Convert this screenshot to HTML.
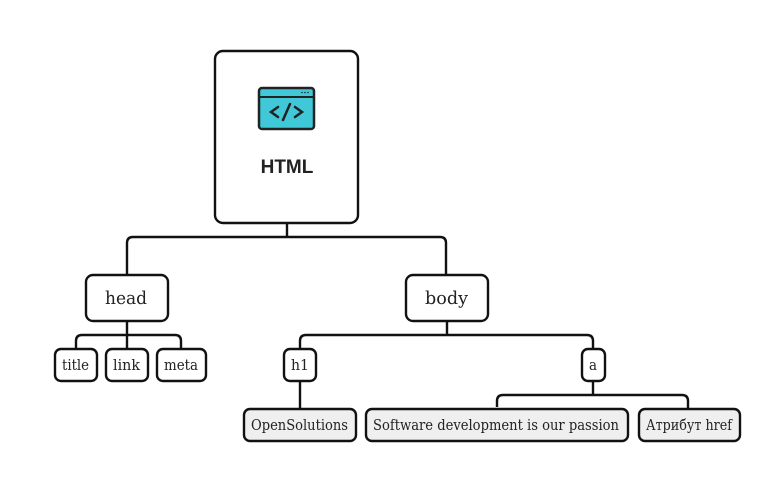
<!DOCTYPE html>
<html><head><meta charset="utf-8"><style>
html,body{margin:0;padding:0;background:#fff;width:759px;height:482px;overflow:hidden}
svg text{font-family:"DejaVu Serif","Liberation Serif",serif;fill:#222}
</style></head><body>
<svg width="759" height="482" viewBox="0 0 759 482" xmlns="http://www.w3.org/2000/svg">
<g fill="none" stroke="#111" stroke-width="2.4">
<path d="M287 223V237M127 275V243Q127 237 133 237H440Q446 237 446 243V275"/>
<path d="M127 321V335M76 349V341Q76 335 82 335H175Q181 335 181 341V349M127 335V349"/>
<path d="M447 321V335M300 349V341Q300 335 306 335H587Q593 335 593 341V349"/>
<path d="M300 381V409"/>
<path d="M593 381V395M497 407V401Q497 395 503 395H682Q688 395 688 401V409"/>
</g>
<g stroke="#111" stroke-width="2.4">
<rect x="215" y="51" width="143" height="172" rx="8" fill="#fff"/>
<rect x="86" y="275" width="82" height="46" rx="7" fill="#fff"/>
<rect x="406" y="275" width="82" height="46" rx="7" fill="#fff"/>
<rect x="55" y="349" width="42" height="32" rx="6" fill="#fff"/>
<rect x="106" y="349" width="42" height="32" rx="6" fill="#fff"/>
<rect x="157" y="349" width="49" height="32" rx="6" fill="#fff"/>
<rect x="284" y="349" width="32" height="32" rx="6" fill="#fff"/>
<rect x="582" y="349" width="23" height="32" rx="6" fill="#fff"/>
<rect x="244" y="409" width="112" height="32" rx="6" fill="#efefef"/>
<rect x="366" y="409" width="262" height="32" rx="6" fill="#efefef"/>
<rect x="639" y="409" width="101" height="32" rx="6" fill="#efefef"/>
</g>
<rect x="259" y="88" width="55" height="41" rx="3" fill="#40c8d8" stroke="#222" stroke-width="2.5"/>
<line x1="259" y1="97" x2="314" y2="97" stroke="#222" stroke-width="2"/>
<circle cx="302" cy="92.5" r="0.8" fill="#222"/><circle cx="305" cy="92.5" r="0.8" fill="#222"/><circle cx="308" cy="92.5" r="0.8" fill="#222"/>
<g fill="none" stroke="#222" stroke-width="2.5" stroke-linecap="round">
<path d="M278 107L271 112L278 117M295 107L302 112L295 117M290 104L283 120"/>
</g>
<text x="287" y="173" text-anchor="middle" style="font-family:'Liberation Sans',sans-serif;font-weight:bold;font-size:19px" fill="#111">HTML</text>
<g font-size="18">
<text x="105" y="304" textLength="42" lengthAdjust="spacingAndGlyphs">head</text>
<text x="425" y="304" textLength="43" lengthAdjust="spacingAndGlyphs">body</text>
</g>
<g font-size="15">
<text x="62" y="370" textLength="27" lengthAdjust="spacingAndGlyphs">title</text>
<text x="113" y="370" textLength="27" lengthAdjust="spacingAndGlyphs">link</text>
<text x="164" y="370" textLength="34" lengthAdjust="spacingAndGlyphs">meta</text>
<text x="291" y="370" textLength="18" lengthAdjust="spacingAndGlyphs">h1</text>
<text x="589" y="370" textLength="8" lengthAdjust="spacingAndGlyphs">a</text>
<text x="251" y="430" textLength="97" lengthAdjust="spacingAndGlyphs">OpenSolutions</text>
<text x="373" y="430" textLength="246" lengthAdjust="spacingAndGlyphs">Software development is our passion</text>
<text x="646" y="430" textLength="86" lengthAdjust="spacingAndGlyphs">Атрибут href</text>
</g>
</svg>
</body></html>
